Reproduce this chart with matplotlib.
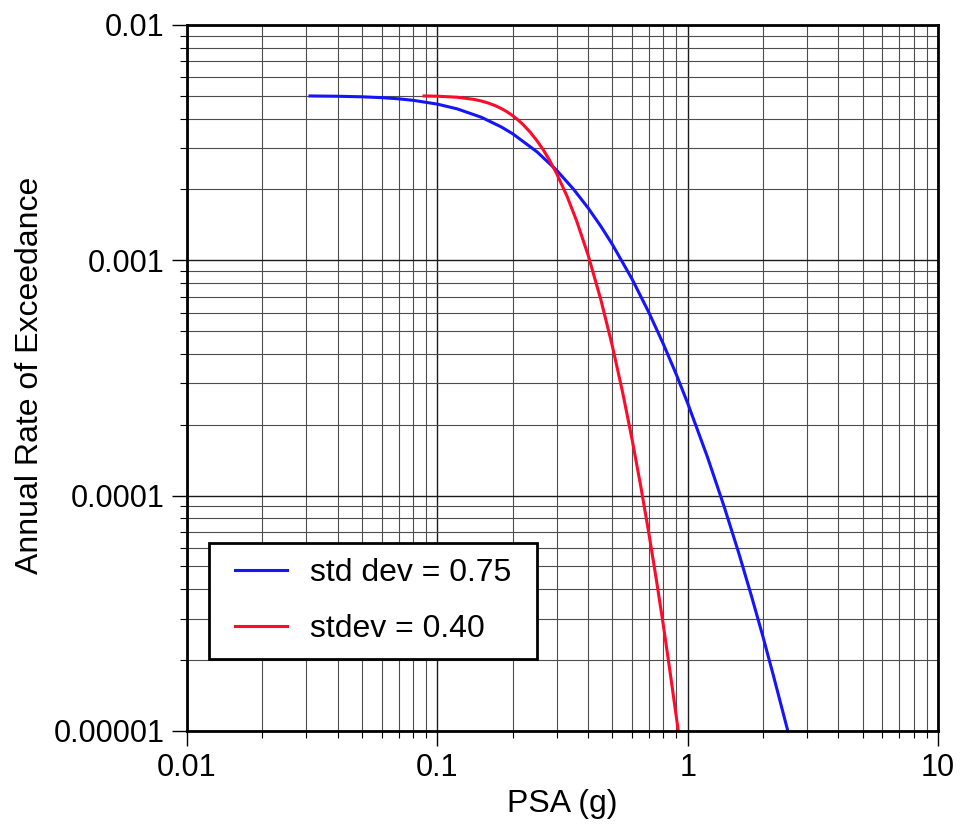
import numpy as np
import matplotlib
matplotlib.use("Agg")
import matplotlib.pyplot as plt
from matplotlib.patches import Rectangle
from matplotlib.ticker import LogLocator, FixedLocator, FixedFormatter, NullFormatter

plt.rcParams['font.family'] = ['Liberation Sans', 'DejaVu Sans']

# hazard curve, std dev = 0.75
psa_075 = [0.031, 0.04, 0.05, 0.06, 0.07, 0.08, 0.1, 0.12, 0.15, 0.18,
           0.2, 0.25, 0.3, 0.35, 0.4, 0.45, 0.5, 0.6, 0.7, 0.8,
           0.9, 1.0, 1.2, 1.4, 1.6, 1.8, 2.0, 2.2, 2.5]
rate_075 = [0.004993, 0.004979, 0.004952, 0.004911, 0.004855, 0.004785, 0.004610, 0.004401, 0.004052, 0.003688,
            0.003449, 0.002892, 0.002410, 0.002005, 0.001670, 0.001395, 0.001169, 0.000831, 0.000600, 0.000440,
            0.000328, 0.000247, 0.0001457, 0.0000895, 0.0000570, 0.0000373, 0.0000251, 0.0000172, 0.0000102]

# hazard curve, std dev = 0.40
psa_040 = [0.0885, 0.1, 0.12, 0.14, 0.15, 0.16, 0.17, 0.18, 0.19, 0.2,
           0.21, 0.22, 0.235, 0.25, 0.265, 0.28, 0.3, 0.33, 0.36, 0.4,
           0.45, 0.5, 0.55, 0.6, 0.65, 0.7, 0.75, 0.8, 0.85, 0.916]
rate_040 = [0.004993, 0.004981, 0.004932, 0.004828, 0.004752, 0.004657, 0.004545, 0.004417, 0.004274, 0.004117,
            0.003950, 0.003775, 0.003502, 0.003223, 0.002946, 0.002675, 0.002331, 0.001867, 0.001472, 0.001054,
            0.000680, 0.000433, 0.000274, 0.0001728, 0.0001090, 0.0000690, 0.0000438, 0.0000280, 0.0000179, 0.0000101]

xticks = [0.01, 0.1, 1, 10]
xtick_labels = ["0.01", "0.1", "1", "10"]
yticks = [0.00001, 0.0001, 0.001, 0.01]
ytick_labels = ["0.00001", "0.0001", "0.001", "0.01"]

fig = plt.figure(figsize=(9.77, 8.27), dpi=100)
ax = fig.add_axes([0.1914, 0.1161, 0.7687, 0.8537])

ax.plot(psa_075, rate_075, color='#1414ff', lw=2.2, label='std dev = 0.75')
ax.plot(psa_040, rate_040, color='#ff0a28', lw=2.2, label='stdev = 0.40')

ax.set_xscale('log')
ax.set_yscale('log')
ax.set_xlim(0.01, 10)
ax.set_ylim(0.00001, 0.01)

ax.xaxis.set_major_locator(FixedLocator(xticks))
ax.xaxis.set_major_formatter(FixedFormatter(xtick_labels))
ax.yaxis.set_major_locator(FixedLocator(yticks))
ax.yaxis.set_major_formatter(FixedFormatter(ytick_labels))
ax.xaxis.set_minor_locator(LogLocator(base=10, subs=np.arange(2, 10), numticks=20))
ax.yaxis.set_minor_locator(LogLocator(base=10, subs=np.arange(2, 10), numticks=20))
ax.xaxis.set_minor_formatter(NullFormatter())
ax.yaxis.set_minor_formatter(NullFormatter())

ax.grid(True, which='major', color='0.1', lw=1.0)
ax.grid(True, which='minor', color='0.3', lw=0.8)
ax.set_axisbelow(True)

ax.tick_params(which='major', direction='out', length=11, width=1.0, labelsize=22, pad=5)
ax.tick_params(which='minor', direction='out', length=5, width=0.8)
for sp in ax.spines.values():
    sp.set_linewidth(2.0)

ax.set_xlabel('PSA (g)', fontsize=23, labelpad=4)
ax.set_ylabel('Annual Rate of Exceedance', fontsize=23)
ax.yaxis.set_label_coords(-0.189, 0.503)

# legend box drawn separately so side padding can be wider than top/bottom
box = Rectangle((0.0293, 0.102), 0.4367, 0.1643, transform=ax.transAxes,
                facecolor='white', edgecolor='black', lw=2.0, zorder=5)
ax.add_patch(box)
leg = ax.legend(loc='center left', bbox_to_anchor=(0.0293, 0.184), borderaxespad=0,
                fontsize=23, frameon=False, handlelength=1.63, handletextpad=0.72,
                labelspacing=0.8, borderpad=0.8)
leg.set_zorder(6)

fig.savefig('out.png', dpi=100)
